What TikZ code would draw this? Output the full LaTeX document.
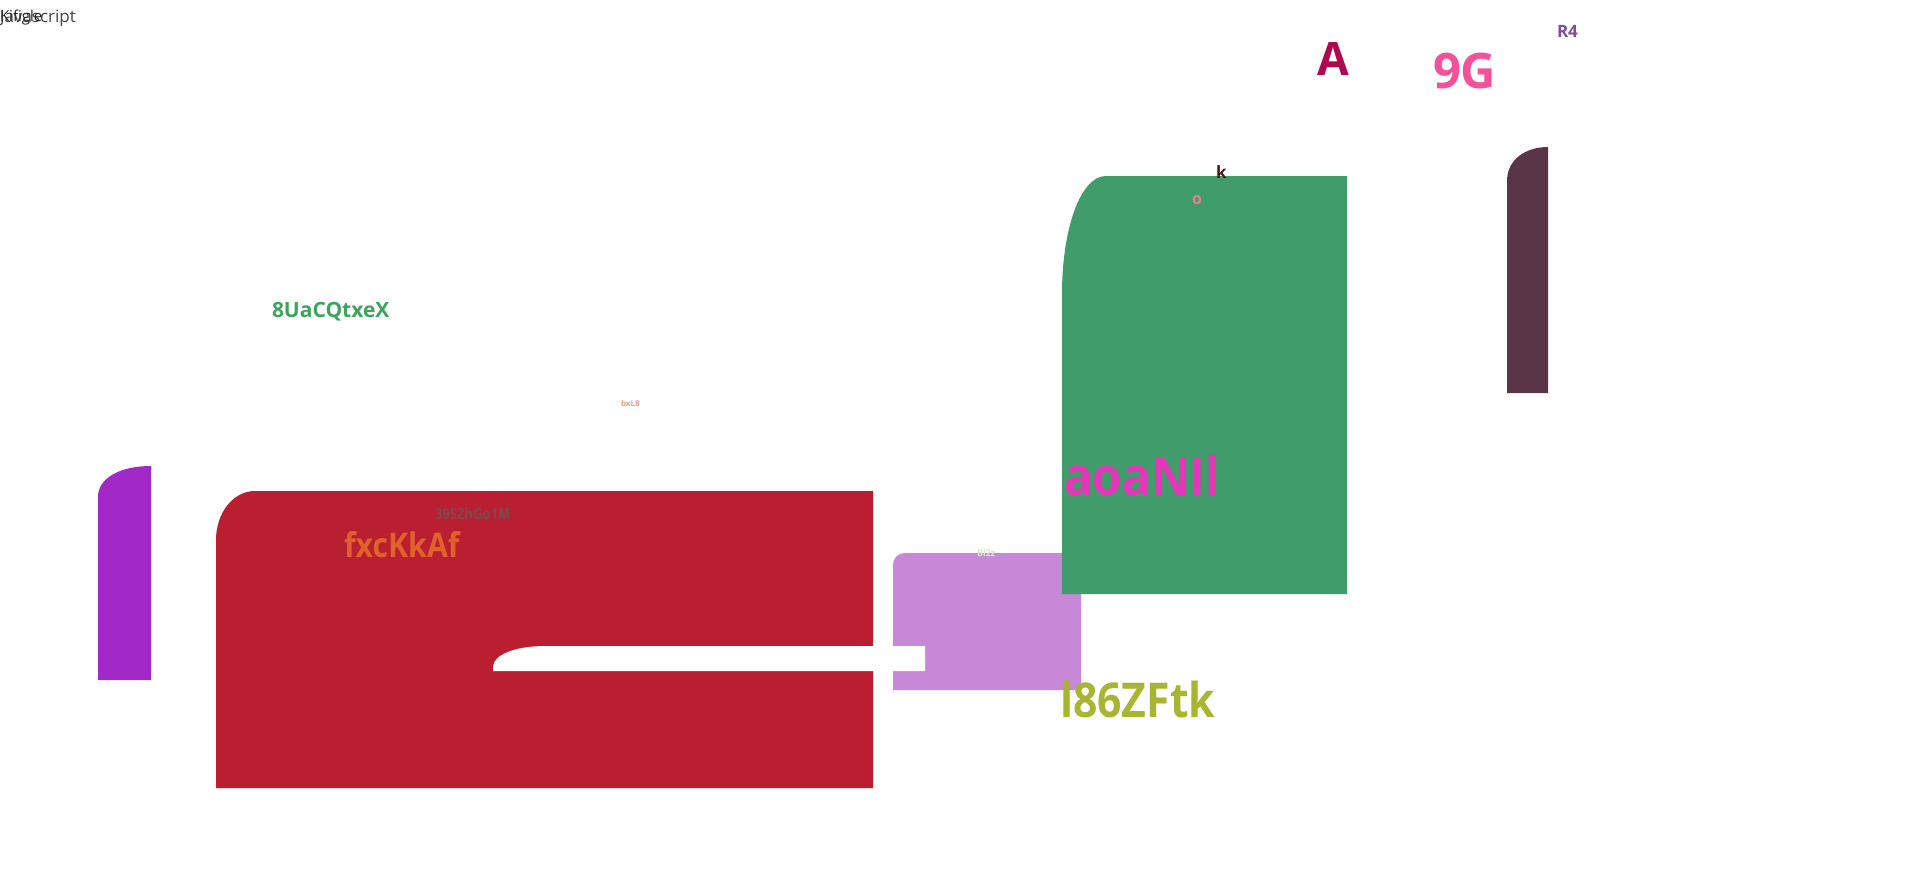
\documentclass[tikz,border=0pt]{standalone}
\usepackage{fontspec}
\setmainfont{Open Sans}
\definecolor{cRed}{HTML}{B91F31}
\definecolor{cPurp}{HTML}{A228C8}
\definecolor{cLPurp}{HTML}{C888D8}
\definecolor{cGreen}{HTML}{409C6A}
\definecolor{cMaroon}{HTML}{5A3548}
\definecolor{tA}{HTML}{B0084F}
\definecolor{tNine}{HTML}{F5509A}
\definecolor{tR}{HTML}{7E4E9A}
\definecolor{tK}{HTML}{4A1818}
\definecolor{tO}{HTML}{E88090}
\definecolor{tAoa}{HTML}{E535B8}
\definecolor{tL}{HTML}{A8B530}
\definecolor{tFx}{HTML}{E0622A}
\definecolor{tSz}{HTML}{7A4A50}
\definecolor{tUa}{HTML}{3DA35D}
\definecolor{tBs}{HTML}{E8A090}
\definecolor{tBl}{HTML}{D8E8C0}
\definecolor{tGrey}{HTML}{444444}
\tikzset{
  lbl/.style={anchor=base west, inner sep=0pt, outer sep=0pt, font=\bfseries},
  tl/.style={anchor=base west, inner sep=0pt, outer sep=0pt},
}
\begin{document}
\begin{tikzpicture}[x=1pt,y=-1pt]
\useasboundingbox[fill=white] (0,0) rectangle (1920,870);
% shapes
\fill[cPurp] (151,466) -- (151,680) -- (98,680) -- (98,497)
  .. controls (98,478) and (120,466) .. (151,466) -- cycle;
\fill[cRed] (255,491) -- (873,491) -- (873,788) -- (216,788) -- (216,540)
  .. controls (216,513) and (233,491) .. (255,491) -- cycle;
\fill[cLPurp] (905,553) -- (1081,553) -- (1081,690) -- (893,690) -- (893,565)
  .. controls (893,558) and (898,553) .. (905,553) -- cycle;
\fill[white] (493,671) -- (493,667) .. controls (493,655) and (515,646) .. (545,646)
  -- (925,646) -- (925,671) -- cycle;
\fill[cGreen] (1106,176) -- (1347,176) -- (1347,594) -- (1062,594) -- (1062,294)
  .. controls (1062,230) and (1080,176) .. (1106,176) -- cycle;
\fill[cMaroon] (1548,147) -- (1548,393) -- (1507,393) -- (1507,181)
  .. controls (1507,160) and (1525,147) .. (1548,147) -- cycle;
% texts
\node[tl, text=tGrey, font=\fontsize{17}{17}\selectfont] (t1) at (0,22) {Javascript};
\node[tl, text=black!85, font=\fontsize{15}{15}\selectfont] (t2) at (0,21) {Kifigle};
\node[lbl, text=tA, font=\bfseries\fontsize{46}{46}\selectfont] (nA) at (1317,75) {A};
\node[lbl, text=tNine, font=\bfseries\fontsize{49}{49}\selectfont] (n9G) at (1433,88) {9G};
\node[lbl, text=tR, font=\bfseries\fontsize{17}{17}\selectfont] (nR4) at (1557,37) {R4};
\node[lbl, text=tK, font=\bfseries\fontsize{17}{17}\selectfont] (nk) at (1216,178) {k};
\node[lbl, text=tO, font=\bfseries\fontsize{16}{16}\selectfont] (no) at (1192,204) {o};
\node[lbl, text=tAoa, font=\bfseries\fontsize{53}{53}\selectfont] (naoa) at (1064,495) {\scalebox{0.9}[1]{aoaNIl}};
\node[lbl, text=tL, font=\bfseries\fontsize{48}{48}\selectfont] (nl86) at (1060,717) {\scalebox{0.89}[1]{l86ZFtk}};
\node[lbl, text=tFx, font=\bfseries\fontsize{34}{34}\selectfont] (nfx) at (344,557) {\scalebox{0.89}[1]{fxcKkAf}};
\node[lbl, text=tSz, font=\bfseries\fontsize{15}{15}\selectfont] (n39) at (435,519) {\scalebox{0.87}[1]{39SZhGo1M}};
\node[lbl, text=tUa, font=\bfseries\fontsize{21}{21}\selectfont] (n8U) at (272,317) {8UaCQtxeX};
\node[lbl, text=tBs, font=\bfseries\fontsize{8}{8}\selectfont] (nbs) at (621,406) {bxL8};
\node[lbl, text=tBl, font=\bfseries\fontsize{9}{9}\selectfont] (nbl) at (977,556) {Bl2z};
\end{tikzpicture}
\end{document}
